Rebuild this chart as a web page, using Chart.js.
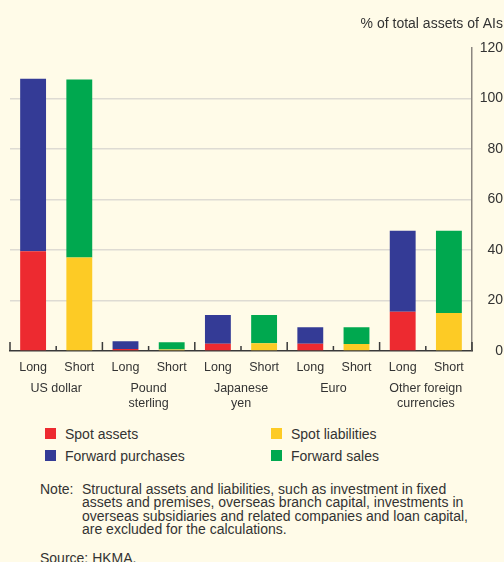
<!DOCTYPE html>
<html>
<head>
<meta charset="utf-8">
<script src="https://cdn.jsdelivr.net/npm/chart.js@4/dist/chart.umd.min.js"></script>
<style>
  html, body { margin: 0; padding: 0; background: #fffbe8; }
  body { width: 504px; height: 562px; position: relative; overflow: hidden;
         font-family: "Liberation Sans", Arial, sans-serif; color: #333; }
  #wrap { position: absolute; left: 0; top: 0; width: 504px; height: 417px; }
  .leg { position: absolute; font-size: 14px; line-height: 16px; white-space: nowrap; }
  .leg i { position: absolute; left: -20px; top: 2px; width: 11px; height: 11px; }
  .note { position: absolute; font-size: 14px; line-height: 13.4px; white-space: nowrap; }
</style>
</head>
<body>
<div id="wrap"><canvas id="c"></canvas></div>
<div id="legend"></div>
<div class="note" style="left:40px; top:483px;">Note:</div>
<div class="note" style="left:82px; top:483px;">Structural assets and liabilities, such as investment in fixed<br>assets and premises, overseas branch capital, investments in<br>overseas subsidiaries and related companies and loan capital,<br>are excluded for the calculations.</div>
<div class="note" style="left:40px; top:552px;">Source: HKMA.</div>
<script>
// ---- data ----
const positions = ['Long', 'Short', 'Long', 'Short', 'Long', 'Short', 'Long', 'Short', 'Long', 'Short'];
const currencies = [['US dollar'], ['Pound', 'sterling'], ['Japanese', 'yen'], ['Euro'], ['Other foreign', 'currencies']];
const spotAssets        = [39.5, null, 0.8, null, 2.9, null, 2.9, null, 15.5, null];
const forwardPurchases  = [68.3, null, 3.1, null, 11.3, null, 6.5, null, 32.1, null];
const spotLiabilities   = [null, 37.0, null, 0.6, null, 3.1, null, 2.8, null, 15.0];
const forwardSales      = [null, 70.5, null, 2.9, null, 11.1, null, 6.6, null, 32.6];
const yTicks = [0, 20, 40, 60, 80, 100, 120];
const axisTitle = '% of total assets of AIs';

const seriesList = [
  { label: 'Spot assets', data: spotAssets, color: '#ed2a30' },
  { label: 'Forward purchases', data: forwardPurchases, color: '#343b96' },
  { label: 'Spot liabilities', data: spotLiabilities, color: '#fdcb25' },
  { label: 'Forward sales', data: forwardSales, color: '#00a84f' }
];

const textColor = '#333';
const font = { family: '"Liberation Sans", Arial, sans-serif' };

const tickMarks = {
  id: 'tickMarks',
  afterDatasetsDraw(chart) {
    const x = chart.scales.x, ctx = chart.ctx;
    const n = x.ticks.length;
    const half = (x.getPixelForTick(1) - x.getPixelForTick(0)) / 2;
    ctx.save();
    ctx.strokeStyle = '#3a3a3a';
    ctx.lineWidth = 1.5;
    for (let i = 0; i <= n; i++) {
      const px = i < n ? x.getPixelForTick(i) - half : x.getPixelForTick(n - 1) + half;
      const len = i % 2 === 0 ? 9 : 5;
      ctx.beginPath();
      ctx.moveTo(px, x.top);
      ctx.lineTo(px, x.top - len);
      ctx.stroke();
    }
    ctx.restore();
  }
};

new Chart(document.getElementById('c'), {
  type: 'bar',
  data: {
    labels: positions,
    datasets: seriesList.map(s => ({
      label: s.label, data: s.data, backgroundColor: s.color,
      borderWidth: 0, categoryPercentage: 1, barPercentage: 0.56, stack: 's'
    }))
  },
  plugins: [tickMarks],
  options: {
    responsive: true, maintainAspectRatio: false, animation: false,
    layout: { padding: { left: 10, right: 1, top: 0, bottom: 0 } },
    plugins: {
      legend: { display: false },
      tooltip: { enabled: false },
      title: {
        display: true, text: axisTitle, align: 'end', color: textColor,
        font: { ...font, size: 14, weight: 'normal' },
        padding: { top: 16, bottom: 15 }
      }
    },
    scales: {
      x: {
        stacked: true,
        afterFit: (s) => { s.height = 25; },
        grid: { display: true, drawOnChartArea: false, drawTicks: false, color: 'rgba(0,0,0,0)' },
        border: { display: true, color: '#3a3a3a', width: 1.5 },
        ticks: { color: textColor, font: { ...font, size: 12.5 }, padding: 9, maxRotation: 0, autoSkip: false }
      },
      x2: {
        type: 'category', labels: currencies, offset: true, position: 'bottom',
        grid: { display: false, drawTicks: false }, border: { display: false },
        ticks: { color: textColor, font: { ...font, size: 12.5 }, padding: 5.5, maxRotation: 0, autoSkip: false }
      },
      y: {
        stacked: true, position: 'right', min: 0, max: 120,
        afterBuildTicks: (s) => { s.ticks = yTicks.map(v => ({ value: v })); },
        afterFit: (s) => { s.width = 31; },
        grid: {
          drawTicks: false, lineWidth: 1.5,
          color: (c) => (c.tick && (c.tick.value === 0 || c.tick.value === 120)) ? 'rgba(0,0,0,0)' : '#dedbd3'
        },
        border: { display: true, color: '#8b8680', width: 1.5 },
        ticks: { color: textColor, font: { ...font, size: 14 }, padding: 6, crossAlign: 'far' }
      }
    }
  }
});

// HTML legend built from the series list (two columns)
const legendPos = { 'Spot assets': [65, 426], 'Spot liabilities': [291, 426],
                    'Forward purchases': [65, 448], 'Forward sales': [291, 448] };
const legendEl = document.getElementById('legend');
seriesList.forEach(s => {
  const d = document.createElement('div');
  d.className = 'leg';
  d.style.left = legendPos[s.label][0] + 'px';
  d.style.top = legendPos[s.label][1] + 'px';
  d.innerHTML = '<i style="background:' + s.color + '"></i>' + s.label;
  legendEl.appendChild(d);
});
</script>
</body>
</html>
